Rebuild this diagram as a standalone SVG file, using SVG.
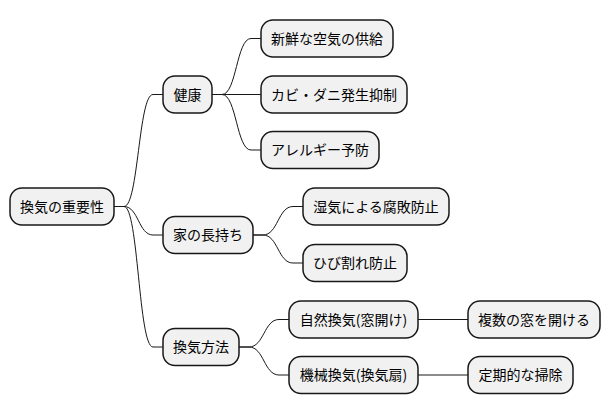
<svg xmlns="http://www.w3.org/2000/svg" width="611" height="415" viewBox="0 0 611 415">
<style>
.n rect{fill:#F1F1F1;stroke:#181818;stroke-width:1.5}
.n text{font-family:"Noto Sans CJK JP","Noto Sans",sans-serif;font-size:14px;fill:#000;text-anchor:middle}
.c path{fill:none;stroke:#181818;stroke-width:1}
</style>
<rect width="611" height="415" fill="#FFFFFF"/>
<g class="c" id="connectors">
<path d="M114 206.5 h10 C138.5 206.5 138.5 94.5 153 94.5 H163"/>
<path d="M114 206.5 h10 C138.5 206.5 138.5 235 153 235 H163"/>
<path d="M114 206.5 h10 C138.5 206.5 138.5 347 153 347 H163"/>
<path d="M212 94.5 h10 C236.5 94.5 236.5 38.5 251 38.5 H261"/>
<path d="M212 94.5 H261"/>
<path d="M212 94.5 h10 C236.5 94.5 236.5 150 251 150 H261"/>
<path d="M253 235 h10 C278 235 278 206.5 293 206.5 H303"/>
<path d="M253 235 h10 C278 235 278 263 293 263 H303"/>
<path d="M239 347 h10 C264 347 264 319.5 279 319.5 H289"/>
<path d="M239 347 h10 C264 347 264 375 279 375 H289"/>
<path d="M418 319.5 H468"/>
<path d="M418 375 H468"/>
</g>
<g class="n" id="root"><rect x="10" y="188" width="104" height="37" rx="12"/><text x="62" y="211.5">換気の重要性</text></g>
<g class="n" id="kenkou"><rect x="163" y="76" width="49" height="37" rx="12"/><text x="187.5" y="99.5">健康</text></g>
<g class="n" id="ie"><rect x="163" y="216.5" width="90" height="37" rx="12"/><text x="208" y="240">家の長持ち</text></g>
<g class="n" id="houhou"><rect x="163" y="328.5" width="76" height="37" rx="12"/><text x="201" y="352">換気方法</text></g>
<g class="n" id="shinsen"><rect x="261" y="20" width="132" height="37" rx="12"/><text x="327" y="43.5">新鮮な空気の供給</text></g>
<g class="n" id="kabi"><rect x="261" y="76" width="146" height="37" rx="12"/><text x="334" y="99.5">カビ・ダニ発生抑制</text></g>
<g class="n" id="allergy"><rect x="261" y="131.5" width="118" height="37" rx="12"/><text x="320" y="155">アレルギー予防</text></g>
<g class="n" id="shikke"><rect x="303" y="188" width="146" height="37" rx="12"/><text x="376" y="211.5">湿気による腐敗防止</text></g>
<g class="n" id="hibi"><rect x="303" y="244.5" width="104" height="37" rx="12"/><text x="355" y="268">ひび割れ防止</text></g>
<g class="n" id="shizen"><rect x="289" y="301" width="129" height="37" rx="12"/><text x="353.5" y="324.5">自然換気(窓開け)</text></g>
<g class="n" id="kikai"><rect x="289" y="356.5" width="129" height="37" rx="12"/><text x="353.5" y="380">機械換気(換気扇)</text></g>
<g class="n" id="fukusuu"><rect x="468" y="301" width="132" height="37" rx="12"/><text x="534" y="324.5">複数の窓を開ける</text></g>
<g class="n" id="teiki"><rect x="468" y="356.5" width="105" height="37" rx="12"/><text x="520.5" y="380">定期的な掃除</text></g>
</svg>
